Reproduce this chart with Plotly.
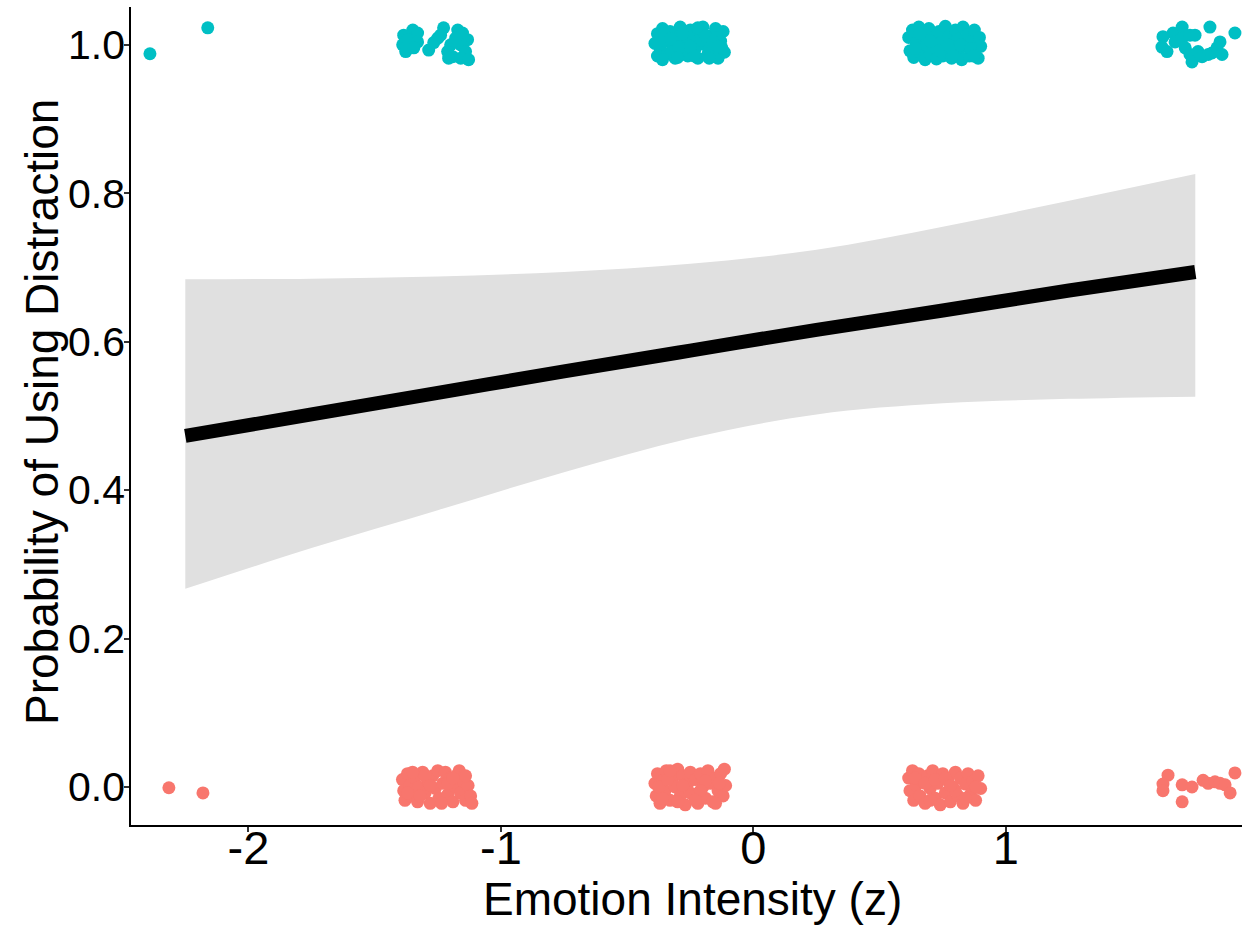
import plotly.graph_objects as go

# ---- Data ----
# Observations coded 1 (used distraction), jittered
used_x = [
    -2.390, -2.161,
    -1.385, -1.349, -1.330, -1.389, -1.377, -1.369, -1.330, -1.345, -1.286, -1.266, -1.250,
    -1.227, -1.239, -1.199, -1.211, -1.171, -1.152, -1.132, -1.159, -1.140, -1.191, -1.159,
    -1.128, -1.179, -1.207,
    -0.38, -0.37, -0.38, -0.36, -0.35, -0.34, -0.33, -0.32, -0.31, -0.30, -0.29, -0.28, -0.27,
    -0.26, -0.25, -0.24, -0.23, -0.22, -0.21, -0.20, -0.19, -0.18, -0.17, -0.16, -0.15, -0.14,
    -0.13, -0.12, -0.115, -0.39, -0.355, -0.325, -0.295, -0.265, -0.235, -0.205, -0.175, -0.145,
    -0.125, -0.36, -0.30, -0.28, -0.22, -0.19, -0.16, -0.33, -0.25, -0.14,
    0.615, 0.62, 0.63, 0.635, 0.645, 0.655, 0.66, 0.67, 0.68, 0.685, 0.695, 0.70, 0.71, 0.72,
    0.725, 0.735, 0.745, 0.75, 0.76, 0.765, 0.775, 0.785, 0.79, 0.80, 0.81, 0.815, 0.825, 0.83,
    0.84, 0.85, 0.855, 0.865, 0.875, 0.88, 0.89, 0.895, 0.90, 0.64, 0.70, 0.74, 0.77, 0.82, 0.86,
    0.66, 0.79, 0.87,
    1.622, 1.662, 1.698, 1.618, 1.638, 1.670, 1.698, 1.729, 1.749, 1.710, 1.729, 1.737, 1.761,
    1.777, 1.808, 1.801, 1.816, 1.836, 1.848, 1.856, 1.907,
]
used_y = [
    0.988, 1.023,
    1.013, 1.020, 1.016, 1.000, 0.991, 1.007, 1.004, 0.996, 0.993, 1.003, 1.009,
    1.023, 1.013, 1.000, 0.991, 1.020, 1.016, 1.007, 1.000, 0.991, 0.984, 0.982,
    0.980, 1.009, 0.982,
    1.015, 0.995, 0.985, 1.022, 1.005, 0.988, 1.018, 0.998, 0.982, 1.010, 1.024, 0.992, 1.003,
    0.985, 1.020, 1.008, 0.995, 0.982, 1.015, 1.024, 1.000, 0.988, 1.012, 0.993, 1.022, 0.982,
    1.005, 1.018, 0.990, 1.002, 1.015, 0.990, 0.997, 1.018, 0.985, 1.006, 0.982, 1.010,
    0.996, 0.980, 0.983, 1.015, 1.023, 1.012, 1.005, 1.008, 0.998, 0.998,
    1.010, 0.992, 1.020, 0.983, 1.003, 1.024, 0.990, 1.012, 0.980, 1.000, 1.022, 0.988, 1.010, 0.996,
    0.981, 1.018, 1.004, 0.985, 1.025, 0.995, 1.012, 0.982, 1.002, 1.020, 0.990, 1.008, 0.980, 1.024,
    0.998, 1.014, 0.985, 1.005, 1.020, 0.993, 0.982, 1.010, 0.998, 0.995, 1.005, 0.992, 1.000, 1.000, 0.995,
    1.015, 0.985, 0.985,
    1.011, 1.016, 1.024, 0.997, 0.991, 1.004, 1.009, 1.013, 1.013, 0.996, 0.987, 0.977, 0.991,
    0.984, 1.024, 0.987, 0.989, 0.996, 1.004, 0.987, 1.016,
]

# Observations coded 0 (did not use distraction), jittered
notused_x = [
    -2.315, -2.180,
    -1.39, -1.385, -1.38, -1.37, -1.36, -1.355, -1.34, -1.33, -1.325, -1.31, -1.30, -1.29, -1.28,
    -1.27, -1.26, -1.25, -1.245, -1.23, -1.22, -1.21, -1.20, -1.19, -1.18, -1.17, -1.16, -1.15,
    -1.14, -1.13, -1.12, -1.115, -1.35, -1.30, -1.235, -1.165, -1.37, -1.28, -1.21, -1.14, -1.32, -1.19,
    -0.39, -0.385, -0.38, -0.37, -0.36, -0.35, -0.345, -0.33, -0.32, -0.31, -0.30, -0.29, -0.28,
    -0.27, -0.26, -0.25, -0.24, -0.23, -0.22, -0.21, -0.20, -0.19, -0.18, -0.17, -0.16, -0.15,
    -0.14, -0.13, -0.12, -0.115, -0.11, -0.375, -0.34, -0.30, -0.25, -0.19, -0.15, -0.36, -0.28,
    -0.21, -0.135, -0.33, -0.23,
    0.615, 0.62, 0.63, 0.635, 0.645, 0.655, 0.66, 0.67, 0.68, 0.69, 0.70, 0.71, 0.72, 0.73, 0.74,
    0.75, 0.76, 0.77, 0.78, 0.79, 0.80, 0.81, 0.82, 0.83, 0.84, 0.85, 0.86, 0.87, 0.88, 0.89, 0.90,
    0.64, 0.68, 0.72, 0.76, 0.80, 0.84, 0.88, 0.70, 0.78,
    1.642, 1.622, 1.622, 1.698, 1.698, 1.737, 1.781, 1.801, 1.828, 1.848, 1.868, 1.888, 1.907,
]
notused_y = [
    -0.001, -0.008,
    0.010, -0.005, -0.018, 0.018, 0.002, -0.012, 0.012, -0.020, 0.000, 0.020, -0.008, 0.008, -0.022,
    0.015, -0.002, 0.022, -0.015, 0.005, 0.020, -0.010, 0.012, -0.020, 0.000, 0.018, -0.008, 0.008,
    -0.018, 0.002, -0.012, -0.022, 0.020, 0.015, -0.022, 0.022, -0.008, 0.002, 0.005, 0.015, -0.012, 0.012,
    0.005, -0.012, 0.018, -0.022, 0.008, -0.005, 0.022, -0.018, 0.012, 0.000, 0.024, -0.012, 0.015,
    -0.024, 0.005, 0.020, -0.010, 0.010, -0.022, 0.018, 0.000, -0.015, 0.022, 0.005, -0.020, 0.012,
    -0.005, 0.018, -0.012, 0.024, 0.002, 0.000, 0.010, -0.020, -0.008, 0.008, -0.022, -0.015, 0.002,
    -0.005, 0.005, 0.022, -0.018,
    0.012, -0.005, 0.022, -0.018, 0.002, 0.018, -0.012, 0.008, -0.022, 0.015, -0.002, 0.022, -0.015, 0.005, -0.024,
    0.018, -0.008, 0.010, -0.020, 0.000, 0.020, -0.012, 0.012, -0.022, 0.004, 0.018, -0.010, 0.008, -0.018, 0.015, -0.002,
    0.012, 0.005, 0.010, 0.012, -0.005, -0.015, 0.000, -0.018, 0.002,
    0.016, 0.004, -0.005, 0.003, -0.020, 0.000, 0.009, 0.005, 0.007, 0.005, 0.003, -0.008, 0.019,
]

# Fitted logistic curve and 95% confidence band
fit_x = [-2.25, -1.75, -1.25, -0.75, -0.25, 0.25, 0.75, 1.25, 1.75]
fit_p = [0.473, 0.502, 0.531, 0.560, 0.588, 0.616, 0.642, 0.669, 0.694]
ci_lower = [0.267, 0.322, 0.373, 0.424, 0.470, 0.502, 0.517, 0.523, 0.526]
ci_upper = [0.684, 0.685, 0.688, 0.694, 0.705, 0.724, 0.755, 0.790, 0.826]

x_tickvals = [-2, -1, 0, 1]
x_ticktext = ["-2", "-1", "0", "1"]
y_tickvals = [0.0, 0.2, 0.4, 0.6, 0.8, 1.0]
y_ticktext = ["0.0", "0.2", "0.4", "0.6", "0.8", "1.0"]

x_title = "Emotion Intensity (z)"
y_title = "Probability of Using Distraction"

TEAL = "#00BFC4"
SALMON = "#F8766D"
FONT = "Liberation Sans, Arial, sans-serif"

fig = go.Figure()

fig.add_trace(go.Scatter(x=notused_x, y=notused_y, mode="markers",
                         marker=dict(color=SALMON, size=13, line=dict(width=0)),
                         showlegend=False, hoverinfo="skip"))
fig.add_trace(go.Scatter(x=used_x, y=used_y, mode="markers",
                         marker=dict(color=TEAL, size=13, line=dict(width=0)),
                         showlegend=False, hoverinfo="skip"))

fig.add_trace(go.Scatter(x=fit_x, y=ci_lower, mode="lines",
                         line=dict(width=0, shape="spline", color="rgba(0,0,0,0)"),
                         showlegend=False, hoverinfo="skip"))
fig.add_trace(go.Scatter(x=fit_x, y=ci_upper, mode="lines", fill="tonexty",
                         fillcolor="#e0e0e0",
                         line=dict(width=0, shape="spline", color="rgba(0,0,0,0)"),
                         showlegend=False, hoverinfo="skip"))
fig.add_trace(go.Scatter(x=fit_x, y=fit_p, mode="lines",
                         line=dict(width=14, color="black", shape="spline"),
                         showlegend=False, hoverinfo="skip"))

fig.update_layout(
    width=1242, height=926,
    margin=dict(l=131, r=0, t=7, b=101),
    paper_bgcolor="white", plot_bgcolor="white",
    font=dict(family=FONT, color="black"),
    xaxis=dict(
        range=[-2.465, 1.935], tickvals=x_tickvals, ticktext=x_ticktext,
        showgrid=False, zeroline=False, showline=True, linecolor="black", linewidth=1.5,
        ticks="outside", ticklen=5, tickwidth=1.5, tickcolor="#333333",
        tickfont=dict(size=47, family=FONT, color="black"),
        ticklabelstandoff=-24, automargin=False,
    ),
    yaxis=dict(
        range=[-0.0512, 1.051], tickvals=y_tickvals, ticktext=y_ticktext,
        showgrid=False, zeroline=False, showline=True, linecolor="black", linewidth=1.5,
        ticks="outside", ticklen=5, tickwidth=1.5, tickcolor="#333333",
        tickfont=dict(size=41, family=FONT, color="black"),
        ticklabelstandoff=-9, automargin=False,
    ),
    annotations=[
        dict(text=x_title, xref="paper", yref="paper", x=(692 - 131) / 1111, y=(825 - 899) / 818,
             xanchor="center", yanchor="middle", showarrow=False,
             font=dict(size=46, family=FONT, color="black")),
        dict(text=y_title, xref="paper", yref="paper", x=(42 - 131) / 1111, y=(825 - 412) / 818,
             xanchor="center", yanchor="middle", showarrow=False, textangle=-90,
             font=dict(size=46, family=FONT, color="black")),
    ],
)

fig.write_html(
    "out.html",
    config={"displayModeBar": False},
    post_script="document.body.style.margin='0';document.body.style.overflow='hidden';",
)
